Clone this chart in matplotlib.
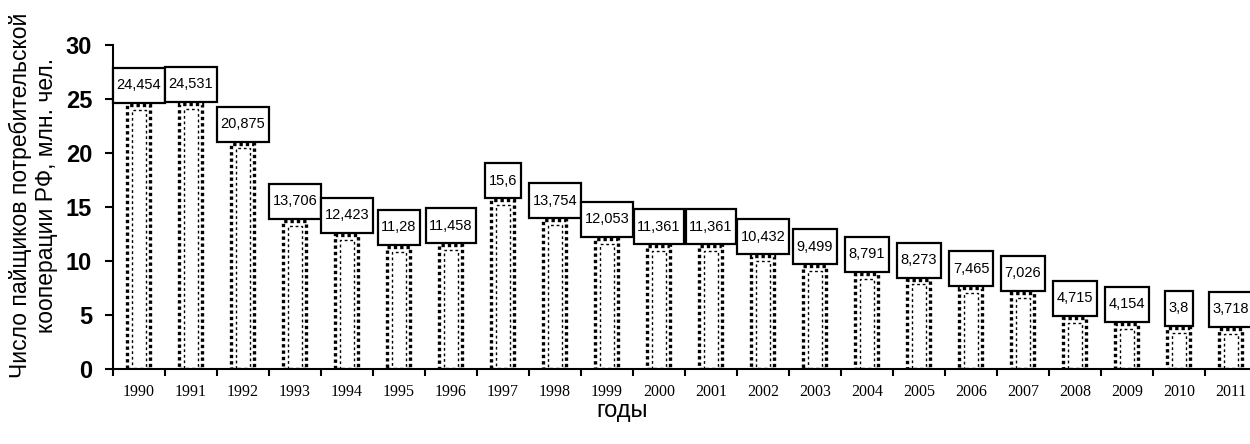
import numpy as np
import matplotlib.pyplot as plt
from matplotlib.patches import Rectangle

years = ['1990', '1991', '1992', '1993', '1994', '1995', '1996', '1997', '1998', '1999', '2000',
         '2001', '2002', '2003', '2004', '2005', '2006', '2007', '2008', '2009', '2010', '2011']
members = [24.454, 24.531, 20.875, 13.706, 12.423, 11.28, 11.458, 15.6, 13.754, 12.053, 11.361,
           11.361, 10.432, 9.499, 8.791, 8.273, 7.465, 7.026, 4.715, 4.154, 3.8, 3.718]
labels = ['24,454', '24,531', '20,875', '13,706', '12,423', '11,28', '11,458', '15,6', '13,754',
          '12,053', '11,361', '11,361', '10,432', '9,499', '8,791', '8,273', '7,465', '7,026',
          '4,715', '4,154', '3,8', '3,718']
yticks = [0, 5, 10, 15, 20, 25, 30]

plt.rcParams['font.family'] = ['Liberation Sans', 'DejaVu Sans']

fig = plt.figure(figsize=(12.5, 4.44), dpi=100)
ax = fig.add_axes([0.0904, 0.169, 0.9152, 0.7297])

x = np.arange(len(years))
w = 0.44

# outer column: thick dotted outline
ax.bar(x - 0.01, members, width=w, facecolor='white', edgecolor='black',
       linewidth=2.4, linestyle=(0, (1, 0.9)), zorder=2)
# inner face of the column: thin dotted outline
inner = [v - 0.45 for v in members]
ax.bar(x - 0.01 - w / 2 + 0.1, inner, width=w * 0.58, align='edge', facecolor='none',
       edgecolor='black', linewidth=1.0, linestyle=(0, (2, 2)), zorder=3)

ax.set_xlim(-0.5, len(years) - 0.5)
ax.set_ylim(0, 30)
ax.set_yticks(yticks)
ax.set_yticklabels([str(t) for t in yticks], fontsize=17, fontweight='bold')
ax.set_xticks(x)
ax.set_xticklabels(years, fontsize=11.5, family='Liberation Serif')
ax.set_xticks(np.arange(len(years) + 1) - 0.5, minor=True)
ax.tick_params(axis='x', which='major', length=0, pad=11)
ax.tick_params(axis='x', which='minor', length=5, width=1.5, direction='out')
ax.tick_params(axis='y', length=6, width=1.5, direction='out', pad=9)

for s in ['top', 'right']:
    ax.spines[s].set_visible(False)
ax.spines['left'].set_linewidth(1.5)
ax.spines['bottom'].set_linewidth(1.5)

# value labels in framed boxes sitting on top of the columns
texts = []
for i, (v, lab) in enumerate(zip(members, labels)):
    t = ax.annotate(lab, (x[i], v), xytext=(0, 14.2), textcoords='offset points',
                    ha='center', va='center', fontsize=10.5, zorder=6)
    texts.append(t)

fig.canvas.draw()
renderer = fig.canvas.get_renderer()
inv = ax.transData.inverted()
for i, t in enumerate(texts):
    bb = t.get_window_extent(renderer)
    bw = bb.width + 7
    _, base = ax.transData.transform((x[i], members[i]))
    x0, y0 = inv.transform((bb.x0 + bb.width / 2 - bw / 2, base + 2))
    x1, y1 = inv.transform((bb.x0 + bb.width / 2 + bw / 2, base + 37))
    ax.add_patch(Rectangle((x0, y0), x1 - x0, y1 - y0, facecolor='white',
                           edgecolor='black', linewidth=1.6, zorder=5, clip_on=False))

fig.text(0.027, 0.56, 'Число пайщиков потребительской\nкооперации РФ, млн. чел.',
         rotation=90, ha='center', va='center', fontsize=16.5, linespacing=1.15)
fig.text(0.4976, 0.075, 'годы', ha='center', va='center', fontsize=17)

fig.savefig('out.png', dpi=100)
